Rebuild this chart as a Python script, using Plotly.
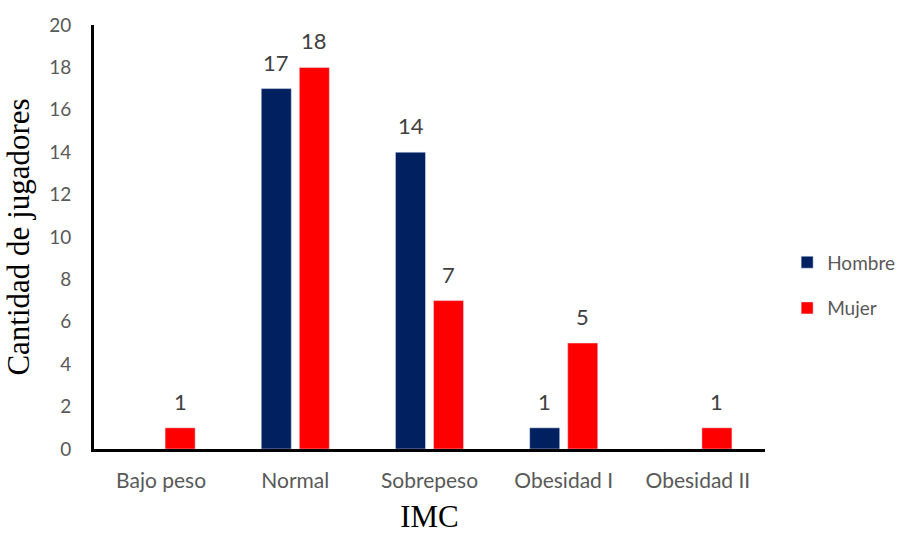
import plotly.graph_objects as go

categories = ["Bajo peso", "Normal", "Sobrepeso", "Obesidad I", "Obesidad II"]
hombre = [0, 17, 14, 1, 0]
mujer = [1, 18, 7, 5, 1]

sans = "Lato, Calibri, sans-serif"
serif = "Liberation Serif, Times New Roman, serif"

fig = go.Figure()
fig.add_trace(go.Bar(name="Hombre", x=categories, y=hombre, marker_color="#002060",
                     legendgroup="h"))
fig.add_trace(go.Bar(name="Mujer", x=categories, y=mujer, marker_color="#FF0000",
                     legendgroup="m"))

# value labels above each non-zero bar, shifted onto its group slot
for values, shift in ((hombre, -19), (mujer, 19)):
    for cat, v in zip(categories, values):
        if v:
            fig.add_annotation(
                x=cat, y=v, text=str(v), showarrow=False,
                xanchor="center", yanchor="bottom", xshift=shift, yshift=11,
                font=dict(family=sans, size=22, color="#404040"),
            )

fig.update_layout(
    width=906, height=534,
    margin=dict(l=94, r=141, t=25, b=85, autoexpand=False),
    paper_bgcolor="white", plot_bgcolor="white",
    barmode="group", bargap=0.433, bargroupgap=0.21,
    font=dict(family=sans, size=19, color="#595959"),
    legend=dict(x=1.033, y=0.386, xanchor="left", yanchor="middle",
                font=dict(size=19, color="#595959"), traceorder="grouped",
                tracegroupgap=18, itemwidth=30),
    xaxis=dict(
        title=dict(text="IMC", font=dict(family=serif, size=31, color="black"),
                   standoff=22),
        automargin=False,
        showline=True, linecolor="black", linewidth=3, showgrid=False,
        ticks="", ticklabelstandoff=11, tickfont=dict(size=21, color="#595959"),
    ),
    yaxis=dict(
        title=dict(text="Cantidad de jugadores",
                   font=dict(family=serif, size=31, color="black"), standoff=11),
        automargin=False,
        range=[0, 20], dtick=2, showline=True, linecolor="black", linewidth=3,
        showgrid=False, zeroline=False, ticks="", ticklabelstandoff=16,
        tickfont=dict(size=19, color="#595959"),
    ),
)

fig.write_html("out.html")
